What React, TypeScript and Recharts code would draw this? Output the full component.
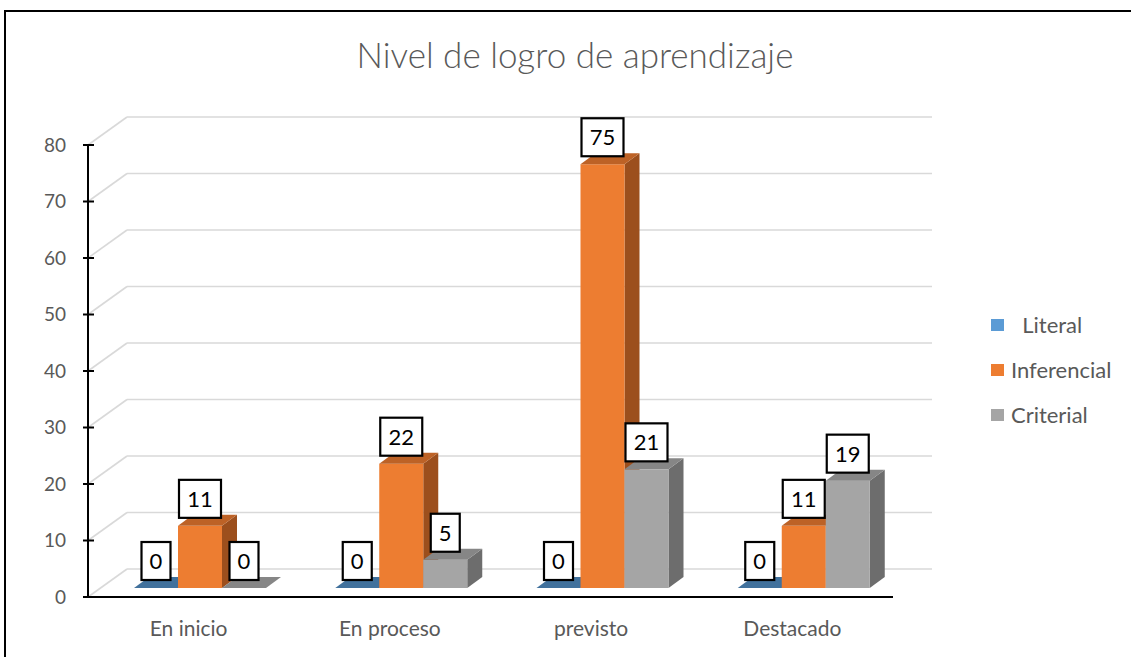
import React from 'react';
import { BarChart, Bar, XAxis, YAxis, CartesianGrid, Legend, LabelList } from 'recharts';

// page has an 8px body margin by default
if (typeof document !== 'undefined') document.body.style.margin = '0';

const CATEGORIES = ['En inicio', 'En proceso', 'previsto', 'Destacado'];
const LITERAL = [0, 0, 0, 0];
const INFERENCIAL = [11, 22, 75, 11];
const CRITERIAL = [0, 5, 21, 19];
const Y_TICKS = [0, 10, 20, 30, 40, 50, 60, 70, 80];

const DATA = CATEGORIES.map((name, i) => ({
  name,
  literal: LITERAL[i],
  inferencial: INFERENCIAL[i],
  criterial: CRITERIAL[i],
}));

const FONT = 'Lato, "Open Sans", sans-serif';
const GREY_TEXT = '#595959';

// perspective offsets (Excel 3D look)
const WALL_DX = 39;
const WALL_DY = 28;
const BAR_OX = 11;
const BAR_OY = 9;
const DEPTH_X = 15;
const DEPTH_Y = 11;

const SERIES = [
  { key: 'literal', name: '  Literal', front: '#5b9bd5', top: '#41719c', side: '#3a6690' },
  { key: 'inferencial', name: 'Inferencial', front: '#ed7d31', top: '#bd6226', side: '#9c4f1d' },
  { key: 'criterial', name: 'Criterial', front: '#a5a5a5', top: '#868686', side: '#6d6d6d' },
];

const make3DBar = (front: string, top: string, side: string) => (props: any) => {
  const { x, y, width, height } = props;
  if (x == null || y == null) return <g />;
  const h = Math.max(0, height || 0);
  const fx = x + BAR_OX;
  const fy = y - BAR_OY;
  const w = width;
  const topPts = `${fx},${fy} ${fx + DEPTH_X},${fy - DEPTH_Y} ${fx + w + DEPTH_X},${fy - DEPTH_Y} ${fx + w},${fy}`;
  const sidePts = `${fx + w},${fy} ${fx + w + DEPTH_X},${fy - DEPTH_Y} ${fx + w + DEPTH_X},${fy + h - DEPTH_Y} ${fx + w},${fy + h}`;
  return (
    <g>
      {h > 0 && <polygon points={sidePts} fill={side} />}
      {h > 0 && <rect x={fx} y={fy} width={w} height={h} fill={front} />}
      <polygon points={topPts} fill={top} />
    </g>
  );
};

const BoxLabel = (props: any) => {
  const vb = props.viewBox || {};
  const x = props.x ?? vb.x;
  const y = props.y ?? vb.y;
  const width = props.width ?? vb.width;
  const value = props.value;
  if (x == null || y == null) return null;
  const text = String(value);
  const bw = 16 + text.length * 13;
  const bh = 38;
  const cx = x + width / 2 + BAR_OX;
  const bottom = y - BAR_OY - 8;
  return (
    <g>
      <rect x={cx - bw / 2} y={bottom - bh} width={bw} height={bh} fill="#fff" stroke="#000" strokeWidth={2.2} />
      <text x={cx} y={bottom - bh / 2} dy="0.36em" textAnchor="middle" fontSize={22} fontFamily={FONT} fill="#000">
        {text}
      </text>
    </g>
  );
};

const gridLine = (p: any) => {
  const { x1, x2, y1, index } = p;
  return (
    <g key={`grid-${index}-${y1}`}>
      <line x1={x1} y1={y1} x2={x1 + WALL_DX} y2={y1 - WALL_DY} stroke="#d9d9d9" strokeWidth={1.6} />
      <line x1={x1 + WALL_DX} y1={y1 - WALL_DY} x2={x2 + WALL_DX} y2={y1 - WALL_DY} stroke="#d9d9d9" strokeWidth={1.6} />
    </g>
  );
};

const YTick = (props: any) => {
  const { x, y, payload } = props;
  return (
    <g>
      <line x1={x - 5} y1={y} x2={x + 6} y2={y} stroke="#000" strokeWidth={2} />
      <text x={x - 22} y={y} dy="0.36em" textAnchor="end" fontSize={19} fontFamily={FONT} fill={GREY_TEXT}>
        {payload.value}
      </text>
    </g>
  );
};

const LegendBox = () => (
  <div style={{ fontFamily: FONT, fontSize: 22, color: GREY_TEXT }}>
    {SERIES.map((s) => (
      <div key={s.key} style={{ display: 'flex', alignItems: 'center', height: 45 }}>
        <span style={{ display: 'inline-block', width: 13, height: 12, background: s.front, marginRight: 7 }} />
        <span style={{ whiteSpace: 'pre' }}>{s.name}</span>
      </div>
    ))}
  </div>
);

export default function App() {
  return (
    <div style={{ position: 'relative', width: 1131, height: 657, background: '#fff', overflow: 'hidden' }}>
      <div
        style={{
          position: 'absolute', left: 4, top: 10, width: 1140, height: 660,
          borderTop: '2px solid #000', borderLeft: '2px solid #000',
        }}
      />
      <div
        style={{
          position: 'absolute', left: 0, width: 1150, top: 33, textAlign: 'center',
          fontFamily: FONT, fontSize: 35, fontWeight: 300, color: GREY_TEXT, lineHeight: '42px',
        }}
      >
        Nivel de logro de aprendizaje
      </div>
      <BarChart
        width={1131}
        height={657}
        data={DATA}
        margin={{ top: 145, right: 238, bottom: 0, left: 0 }}
        barSize={44}
        barGap={0}
        style={{ position: 'absolute', left: 0, top: 0 }}
      >
        <CartesianGrid vertical={false} horizontal={gridLine} />
        <XAxis
          dataKey="name"
          height={60}
          axisLine={{ stroke: '#000', strokeWidth: 2 }}
          tickLine={false}
          tickSize={0}
          tickMargin={24}
          tick={{ fill: GREY_TEXT, fontSize: 21, fontFamily: FONT }}
        />
        <YAxis
          width={88}
          domain={[0, 80]}
          ticks={Y_TICKS}
          interval={0}
          axisLine={{ stroke: '#000', strokeWidth: 2 }}
          tickLine={false}
          tickSize={0}
          tickMargin={0}
          tick={<YTick />}
        />
        <Legend
          layout="vertical"
          align="center"
          verticalAlign="middle"
          content={<LegendBox />}
          wrapperStyle={{ left: 991, top: 302, width: 140, height: 135 }}
        />
        {SERIES.map((s) => (
          <Bar
            key={s.key}
            dataKey={s.key}
            name={s.name}
            fill={s.front}
            isAnimationActive={false}
            shape={make3DBar(s.front, s.top, s.side)}
          >
            <LabelList dataKey={s.key} content={<BoxLabel />} />
          </Bar>
        ))}
      </BarChart>
    </div>
  );
}
